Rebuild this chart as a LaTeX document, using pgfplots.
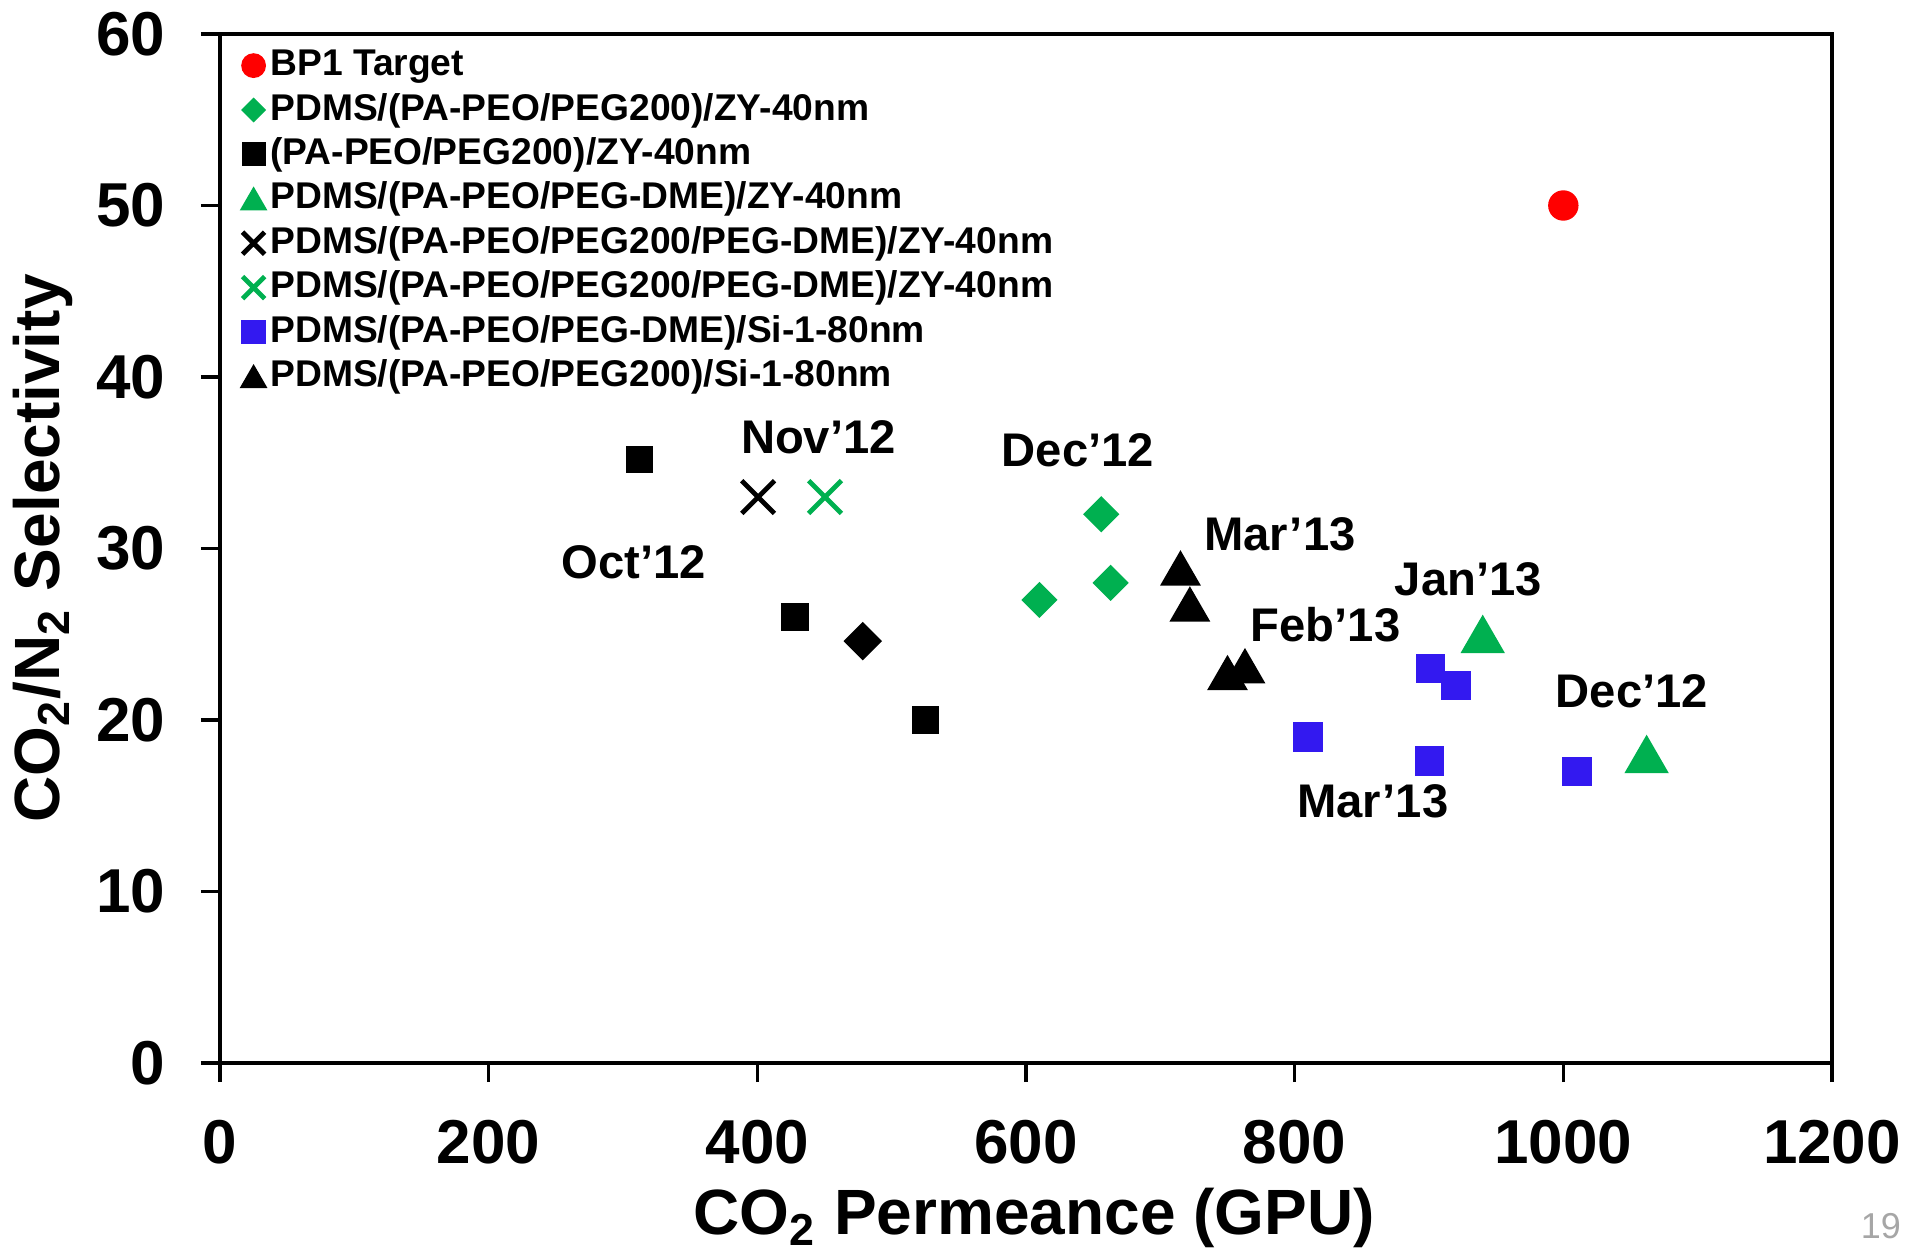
\documentclass[border=0pt]{standalone}
\usepackage{pgfplots}
\pgfplotsset{compat=1.18}
\usepackage{fontspec}
\setmainfont{Liberation Sans}
\definecolor{xlgreen}{RGB}{0,176,80}
\definecolor{xlblue}{RGB}{51,25,240}
\definecolor{xlred}{RGB}{255,0,0}
\begin{document}
\begin{tikzpicture}
\path[use as bounding box] (-55pt,-47.25pt) rectangle (422.25pt,265.75pt);
\begin{axis}[
  at={(0,0)}, anchor=south west,
  width=403pt, height=257.25pt, scale only axis,
  xmin=0, xmax=1200, ymin=0, ymax=60,
  xtick={0,200,...,1200}, ytick={0,10,...,60},
  xtick pos=bottom, ytick pos=left,
  tick align=outside, major tick length=4.8pt,
  axis line style={line width=1.2pt},
  every tick/.style={black, line width=0.8pt},
  /pgf/number format/assume math mode=true,
  /pgf/number format/1000 sep={},
  ticklabel style={font=\fontsize{15.5}{18}\selectfont\bfseries},
  xticklabel style={yshift=-6pt},
  yticklabel style={xshift=-5.3pt},
  xlabel={CO\textsubscript{2} Permeance (GPU)},
  ylabel={CO\textsubscript{2}/N\textsubscript{2} Selectivity},
  label style={font=\fontsize{16}{19}\selectfont\bfseries},
  xlabel style={at={(axis description cs:0.505,-0.151)}, anchor=center},
  ylabel style={at={(axis description cs:-0.110,0.5)}, anchor=center},
  clip=false,
  only marks,
  legend image code/.code={\path (0pt,0pt) (6pt,0pt); \draw[#1] plot coordinates {(3pt,0pt)};},
  legend cell align=left,
  legend style={at={(0,1)}, anchor=north west, xshift=2pt, yshift=-0.7pt,
    draw=none, fill=none, row sep=1.1pt,
    font=\fontsize{9.3}{11}\selectfont\bfseries,
    nodes={inner sep=0.5pt, text height=7pt, text depth=2pt},
    /tikz/every odd column/.append style={column sep=0.5pt}},
]
% BP1 Target
\addplot[mark=*, mark size=3.6pt, color=xlred, legend image post style={mark size=2.9pt}] coordinates {(1000,50)};
\addlegendentry{BP1 Target}
% PDMS/(PA-PEO/PEG200)/ZY-40nm
\addplot[mark=square*, mark size=3.0pt, color=xlgreen, mark options={rotate=45}, legend image post style={mark size=2.0pt}] coordinates {(656,32) (610,27) (663,28)};
\addlegendentry{PDMS/(PA-PEO/PEG200)/ZY-40nm}
% (PA-PEO/PEG200)/ZY-40nm
\addplot[mark=square*, mark size=3.2pt, color=black, legend image post style={mark size=2.8pt}] coordinates {(312,35.2) (428,26) (525,20)};
\addlegendentry{(PA-PEO/PEG200)/ZY-40nm}
% PDMS/(PA-PEO/PEG-DME)/ZY-40nm
\addplot[mark=triangle*, mark size=6pt, color=xlgreen, mark options={yshift=-1.5pt}, legend image post style={mark size=3.6pt, every mark/.append style={yshift=0.6pt}}] coordinates {(940,25) (1062,18)};
\addlegendentry{PDMS/(PA-PEO/PEG-DME)/ZY-40nm}
% black x
\addplot[mark=x, mark size=5.8pt, color=black, mark options={line width=1.2pt}, legend image post style={mark size=3.9pt}] coordinates {(400.6,33)};
\addlegendentry{PDMS/(PA-PEO/PEG200/PEG-DME)/ZY-40nm}
% green x
\addplot[mark=x, mark size=5.8pt, color=xlgreen, mark options={line width=1.2pt}, legend image post style={mark size=3.9pt}] coordinates {(450.4,33)};
\addlegendentry{PDMS/(PA-PEO/PEG200/PEG-DME)/ZY-40nm}
% blue squares
\addplot[mark=square*, mark size=3.5pt, color=xlblue, legend image post style={mark size=2.9pt}] coordinates {(810,19) (901,23) (920,22) (900.5,17.6) (1010,17)};
\addlegendentry{PDMS/(PA-PEO/PEG-DME)/Si-1-80nm}
% black triangles
\addplot[mark=triangle*, mark size=5.5pt, color=black, mark options={yshift=-1.4pt}, legend image post style={mark size=3.6pt, every mark/.append style={yshift=0.5pt}}] coordinates {(715,28.85) (722,26.75) (750,22.75) (763,23.15)};
\addlegendentry{PDMS/(PA-PEO/PEG200)/Si-1-80nm}
% black diamond (no legend)
\addplot[forget plot, mark=square*, mark size=3.2pt, color=black, mark options={rotate=45}] coordinates {(478.5,24.6)};
% annotations
\begin{scope}[every node/.style={font=\fontsize{11.8}{14}\selectfont\bfseries, anchor=center, inner sep=0pt}]
\node at (axis cs:445.5,36.5) {Nov’12};
\node at (axis cs:638.6,35.7) {Dec’12};
\node at (axis cs:307.9,29.2) {Oct’12};
\node at (axis cs:789,30.8) {Mar’13};
\node at (axis cs:929.3,28.2) {Jan’13};
\node at (axis cs:823,25.55) {Feb’13};
\node at (axis cs:1051,21.7) {Dec’12};
\node at (axis cs:858.2,15.25) {Mar’13};
\end{scope}
\node[font=\fontsize{9}{10}\selectfont, text=black!35, anchor=center, inner sep=0pt] at (rel axis cs:1.0304,-0.159) {19};
\end{axis}
\end{tikzpicture}
\end{document}
